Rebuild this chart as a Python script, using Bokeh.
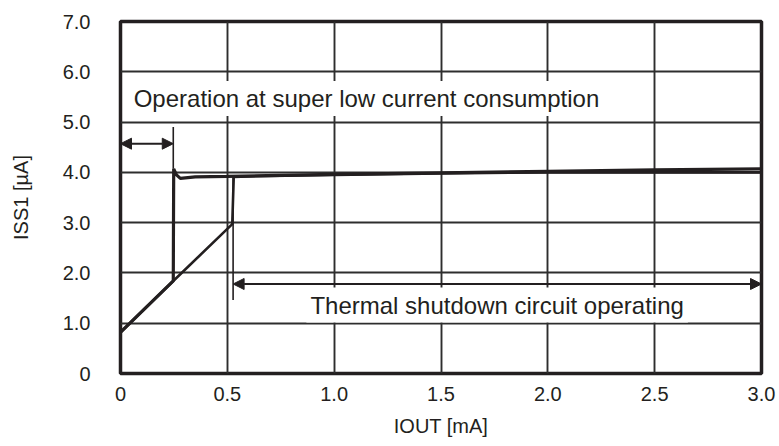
from bokeh.plotting import figure
from bokeh.models import FixedTicker, Label, Arrow, NormalHead, Range1d
from bokeh.embed import file_html
from bokeh.resources import INLINE

# ---------------- data ----------------
x_ticks = [0, 0.5, 1.0, 1.5, 2.0, 2.5, 3.0]
x_tick_labels = ["0", "0.5", "1.0", "1.5", "2.0", "2.5", "3.0"]
y_ticks = [0, 1, 2, 3, 4, 5, 6, 7]
y_tick_labels = ["0", "1.0", "2.0", "3.0", "4.0", "5.0", "6.0", "7.0"]
x_title = "IOUT [mA]"
y_title = "ISS1 [\u00b5A]"

# curve with the super-low-current spike
iout_a = [0, 0.247, 0.249, 0.262, 0.28, 0.35, 0.5, 1.0, 1.5, 2.0, 2.5, 3.0]
iss_a = [0.82, 1.84, 4.07, 3.95, 3.88, 3.91, 3.92, 3.96, 3.99, 4.02, 4.05, 4.07]
# curve switching at thermal shutdown
iout_b = [0, 0.247, 0.523, 0.53, 0.6, 1.0, 1.5, 2.0, 2.5, 3.0]
iss_b = [0.82, 1.84, 2.97, 3.91, 3.92, 3.95, 3.98, 4.0, 4.0, 4.0]

# annotation positions (data units)
low_arrow_x = [0, 0.247]
low_arrow_y = 4.57
low_marker_x = 0.247
low_marker_y = [4.9, 4.07]
ts_arrow_x = [0.527, 3.0]
ts_arrow_y = 1.78
ts_marker_x = 0.527
ts_marker_y = [3.9, 1.46]
low_text = "Operation at super low current consumption"
low_text_pos = (0.043, 5.47)
ts_text = "Thermal shutdown circuit operating"
ts_text_pos = (0.87, 1.36)

FONT = "Liberation Sans"
INK = "#231f20"

p = figure(width=779, height=446, output_backend="svg", toolbar_location=None,
           x_range=Range1d(0, 3.0), y_range=Range1d(0, 7.0),
           min_border_left=120, min_border_right=18, min_border_top=21, min_border_bottom=73)
p.background_fill_color = "white"
p.border_fill_color = "white"
p.outline_line_color = INK
p.outline_line_width = 3.5

for ax in (p.xaxis[0], p.yaxis[0]):
    ax.axis_line_color = None
    ax.major_tick_line_color = None
    ax.minor_tick_line_color = None
    ax.major_tick_out = 0
    ax.major_tick_in = 0
    ax.major_label_text_font = FONT
    ax.major_label_text_font_size = "20px"
    ax.major_label_text_color = INK
    ax.axis_label_text_font = FONT
    ax.axis_label_text_font_size = "20px"
    ax.axis_label_text_font_style = "normal"
    ax.axis_label_text_color = INK

p.xaxis[0].ticker = FixedTicker(ticks=x_ticks)
p.xaxis[0].major_label_overrides = {t: l for t, l in zip(x_ticks, x_tick_labels)}
p.xaxis[0].major_label_standoff = 13
p.xaxis[0].axis_label = x_title
p.xaxis[0].axis_label_standoff = 11
p.yaxis[0].ticker = FixedTicker(ticks=y_ticks)
p.yaxis[0].major_label_overrides = {t: l for t, l in zip(y_ticks, y_tick_labels)}
p.yaxis[0].major_label_standoff = 30
p.yaxis[0].axis_label = y_title
p.yaxis[0].axis_label_standoff = 28

p.xgrid.grid_line_color = "#2e2e2e"
p.xgrid.grid_line_width = 1.9
p.ygrid.grid_line_color = "#2e2e2e"
p.ygrid.grid_line_width = 1.9

# curves
p.line(iout_b, iss_b, line_color=INK, line_width=2.6)
p.line(iout_a, iss_a, line_color=INK, line_width=3.2)

# marker lines
p.line([low_marker_x, low_marker_x], low_marker_y, line_color=INK, line_width=1.6)
p.line([ts_marker_x, ts_marker_x], ts_marker_y, line_color=INK, line_width=1.6)

# double arrows
for xs, y in ((low_arrow_x, low_arrow_y), (ts_arrow_x, ts_arrow_y)):
    p.add_layout(Arrow(x_start=xs[0], y_start=y, x_end=xs[1], y_end=y,
                       line_color=INK, line_width=2,
                       start=NormalHead(size=11, fill_color=INK, line_color=INK, line_width=1),
                       end=NormalHead(size=11, fill_color=INK, line_color=INK, line_width=1)))

# text boxes
for txt, (tx, ty) in ((low_text, low_text_pos), (ts_text, ts_text_pos)):
    p.add_layout(Label(x=tx, y=ty, text=txt, text_font=FONT, text_font_size="24px",
                       text_color=INK, text_align="left", text_baseline="middle",
                       background_fill_color="white", padding=4))

open("out.html", "w").write(file_html(p, INLINE))
